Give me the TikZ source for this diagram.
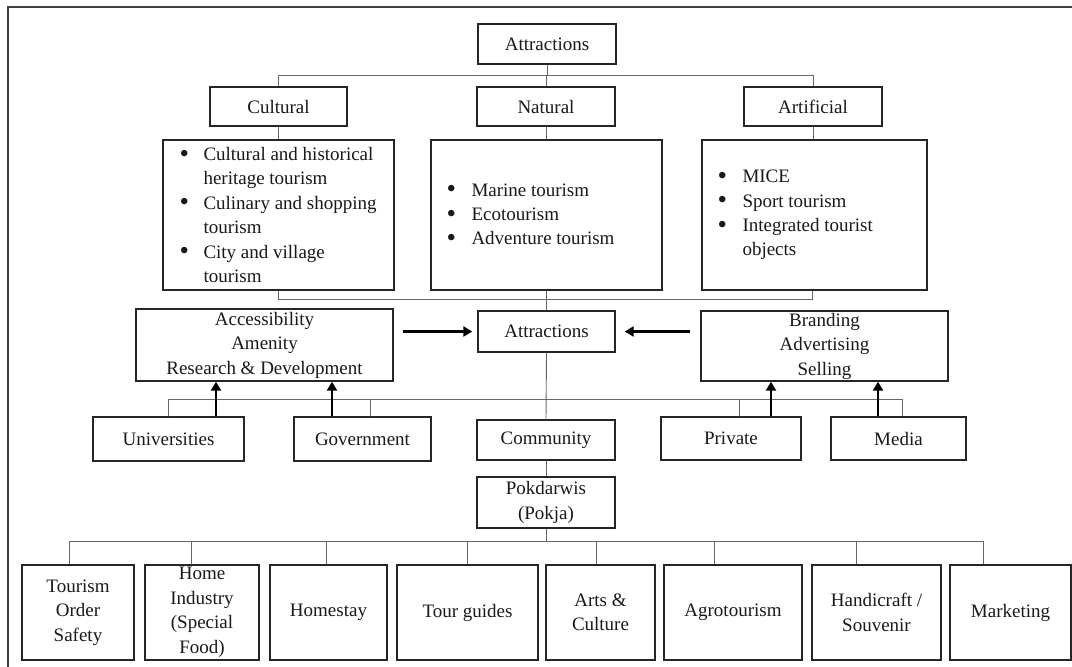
\documentclass[tikz,border=0pt]{standalone}
\usepackage{fontspec}
\setmainfont{Liberation Serif}
\usetikzlibrary{arrows.meta}
\newcommand{\bigbul}{\raisebox{-1.6pt}{\fontsize{27}{0}\selectfont\textbullet}}
\begin{document}
\begin{tikzpicture}[x=1pt,y=-1pt,
  box/.style={draw=black!85, line width=1.4pt, rectangle, inner sep=0pt, align=center,
    font=\fontsize{19}{24.5}\selectfont, text=black!90},
  conn/.style={draw=black!60, line width=0.9pt},
  arr/.style={draw=black, line width=2.6pt, -{Triangle[length=9pt,width=10pt]}},
  ltext/.style={anchor=west, align=left, inner sep=0pt,
    font=\fontsize{19}{24.4}\selectfont, text=black!90}]
\useasboundingbox (0,0) rectangle (1072,667);
\clip (0,0) rectangle (1072,667);
\fill[white] (0,0) rectangle (1072,667);
\draw[line width=2pt, black!75] (8,7) rectangle (1100,700);

% top level
\node[box, minimum width=138pt, minimum height=40pt] (att1) at (547,44) {Attractions};
\node[box, minimum width=137pt, minimum height=39pt] (cult) at (278.5,106.5) {Cultural};
\node[box, minimum width=138pt, minimum height=39pt] (nat) at (546,106.5) {Natural};
\node[box, minimum width=138pt, minimum height=39pt] (art) at (813,106.5) {Artificial};

% list boxes
\node[box, minimum width=231pt, minimum height=150pt] (cultL) at (278.5,215) {};
\node[box, minimum width=231pt, minimum height=150pt] (natL) at (546.5,215) {};
\node[box, minimum width=225pt, minimum height=150pt] (artL) at (814.5,215) {};
\node[ltext] (cultT) at ([xshift=17pt]cultL.west) {%
  \makebox[24pt][l]{\bigbul}Cultural and historical\\
  \hspace*{24pt}heritage tourism\\
  \makebox[24pt][l]{\bigbul}Culinary and shopping\\
  \hspace*{24pt}tourism\\
  \makebox[24pt][l]{\bigbul}City and village\\
  \hspace*{24pt}tourism};
\node[ltext] (natT) at ([xshift=16pt]natL.west) {%
  \makebox[25pt][l]{\bigbul}Marine tourism\\
  \makebox[25pt][l]{\bigbul}Ecotourism\\
  \makebox[25pt][l]{\bigbul}Adventure tourism};
\node[ltext] (artT) at ([xshift=16pt]artL.west) {%
  \makebox[25pt][l]{\bigbul}MICE\\
  \makebox[25pt][l]{\bigbul}Sport tourism\\
  \makebox[25pt][l]{\bigbul}Integrated tourist\\
  \hspace*{25pt}objects};

% middle level
\node[box, minimum width=257pt, minimum height=72pt] (acc) at (264.5,345) {Accessibility\\Amenity\\Research \& Development};
\node[box, minimum width=137pt, minimum height=41pt] (att2) at (546.5,331.5) {Attractions};
\node[box, minimum width=247pt, minimum height=70pt] (brand) at (824.5,346) {Branding\\Advertising\\Selling};

\node[box, minimum width=151pt, minimum height=44pt] (univ) at (168.5,439) {Universities};
\node[box, minimum width=137pt, minimum height=44pt] (gov) at (362.5,439) {Government};
\node[box, minimum width=138pt, minimum height=40pt] (comm) at (546,440) {Community};
\node[box, minimum width=140pt, minimum height=43pt] (priv) at (731,438.5) {Private};
\node[box, minimum width=135pt, minimum height=43pt] (media) at (898.5,438.5) {Media};

\node[box, minimum width=138pt, minimum height=51pt] (pok) at (546,502.5) {Pokdarwis\\(Pokja)};

% bottom level
\node[box, minimum width=112pt, minimum height=95pt] (tos) at (78,612.5) {Tourism\\Order\\Safety};
\node[box, minimum width=114pt, minimum height=95pt] (home) at (202,612.5) {Home\\Industry\\(Special\\Food)};
\node[box, minimum width=117pt, minimum height=95pt] (homestay) at (328.5,612.5) {Homestay};
\node[box, minimum width=141pt, minimum height=95pt] (tour) at (467.5,612.5) {Tour guides};
\node[box, minimum width=109pt, minimum height=95pt] (arts) at (600.5,612.5) {Arts \&\\Culture};
\node[box, minimum width=138pt, minimum height=95pt] (agro) at (733,612.5) {Agrotourism};
\node[box, minimum width=129pt, minimum height=95pt] (handi) at (876.5,612.5) {Handicraft /\\Souvenir};
\node[box, minimum width=121pt, minimum height=95pt] (mark) at (1010.5,612.5) {Marketing};

% bus coordinates
\coordinate (b1) at (0,75);
\coordinate (b2) at (0,299);
\coordinate (b3) at (0,399);
\coordinate (b4) at (0,541);

% top connectors
\draw[conn] (att1.south) -- (att1.south |- b1);
\draw[conn] (cult.north) -- (cult.north |- b1) -- (art.north |- b1) -- (art.north);
\draw[conn] (nat.north) -- (nat.north |- b1);
\draw[conn] (cult.south) -- (cult.south |- cultL.north);
\draw[conn] (nat.south) -- (nat.south |- natL.north);
\draw[conn] (art.south) -- (art.south |- artL.north);

\draw[conn] (cultL.south) -- (cultL.south |- b2) -- ([xshift=-2.5pt]artL.south |- b2) -- ([xshift=-2.5pt]artL.south);
\draw[conn] (natL.south) -- (natL.south |- att2.north);

% horizontal arrows
\draw[arr] ([xshift=9pt]acc.east |- att2.west) -- ([xshift=-5pt]att2.west);
\draw[arr] ([xshift=-10pt]brand.west |- att2.east) -- ([xshift=9pt]att2.east);

% middle bus
\draw[conn] (att2.south) -- (comm.north);
\draw[conn] (univ.north) -- (univ.north |- b3) -- ([xshift=3.5pt]media.north |- b3) -- ([xshift=3.5pt]media.north);
\draw[conn] ([xshift=7.5pt]gov.north) -- ([xshift=7.5pt]gov.north |- b3);
\draw[conn] ([xshift=8pt]priv.north) -- ([xshift=8pt]priv.north |- b3);

% vertical arrows
\draw[arr] ([xshift=47.5pt]univ.north) -- ([xshift=47.5pt]univ.north |- acc.south);
\draw[arr] ([xshift=-30.5pt]gov.north) -- ([xshift=-30.5pt]gov.north |- acc.south);
\draw[arr] ([xshift=40pt]priv.north) -- ([xshift=40pt]priv.north |- brand.south);
\draw[arr] ([xshift=-20.5pt]media.north) -- ([xshift=-20.5pt]media.north |- brand.south);

% bottom bus
\draw[conn] (comm.south) -- (pok.north);
\draw[conn] (pok.south) -- (pok.south |- b4);
\draw[conn] ([xshift=-9pt]tos.north |- b4) -- ([xshift=-27.5pt]mark.north |- b4);
\draw[conn] ([xshift=-9pt]tos.north) -- ([xshift=-9pt]tos.north |- b4);
\draw[conn] ([xshift=-11pt]home.north) -- ([xshift=-11pt]home.north |- b4);
\draw[conn] ([xshift=-2.5pt]homestay.north) -- ([xshift=-2.5pt]homestay.north |- b4);
\draw[conn] (tour.north) -- (tour.north |- b4);
\draw[conn] ([xshift=-4.5pt]arts.north) -- ([xshift=-4.5pt]arts.north |- b4);
\draw[conn] ([xshift=-19pt]agro.north) -- ([xshift=-19pt]agro.north |- b4);
\draw[conn] ([xshift=-20.5pt]handi.north) -- ([xshift=-20.5pt]handi.north |- b4);
\draw[conn] ([xshift=-27.5pt]mark.north) -- ([xshift=-27.5pt]mark.north |- b4);
\end{tikzpicture}
\end{document}
